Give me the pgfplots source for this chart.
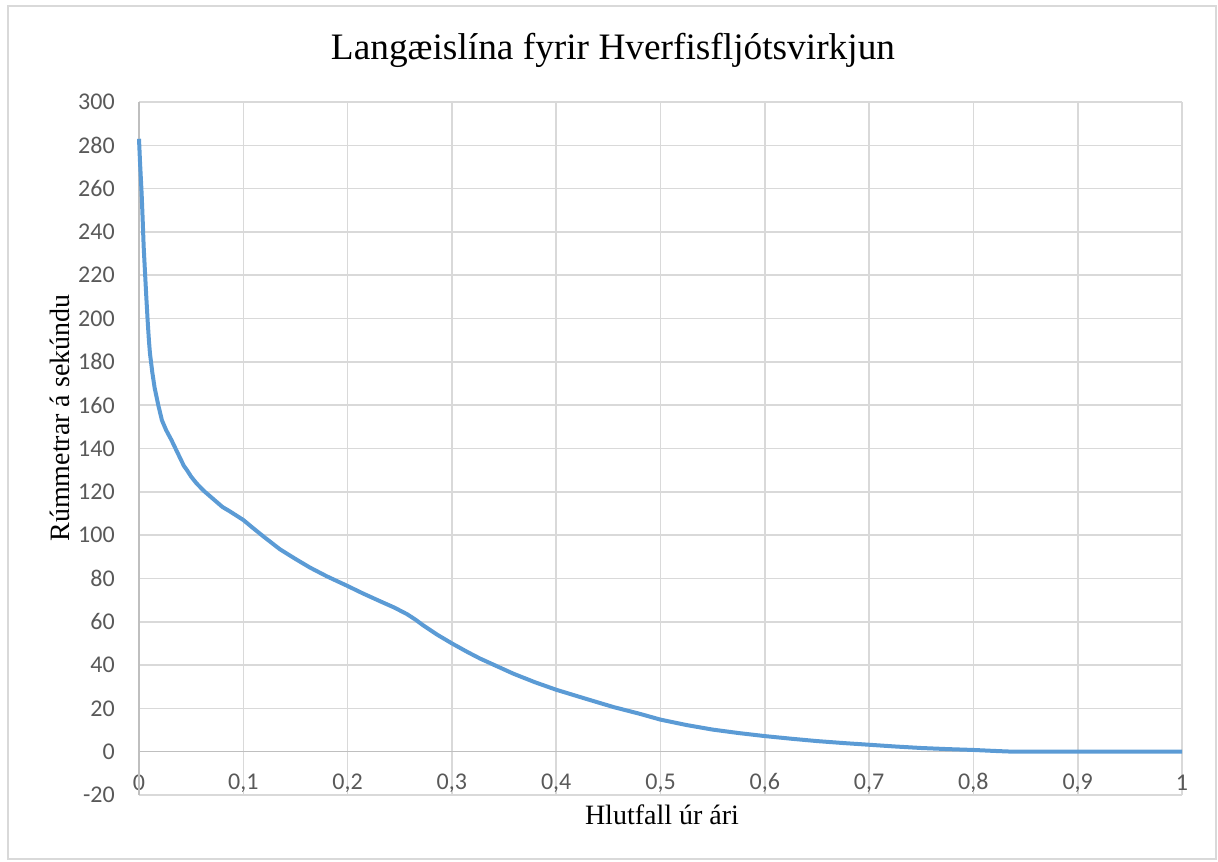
\documentclass[border=0pt]{standalone}
\usepackage{fontspec}
\setmainfont{Liberation Serif}
\newfontfamily\carlito{Carlito}
\usepackage{pgfplots}
\pgfplotsset{compat=1.18}

\definecolor{serie}{HTML}{5B9BD5}
\definecolor{grind}{HTML}{D9D9D9}
\definecolor{asi}{HTML}{BFBFBF}
\definecolor{tala}{HTML}{595959}

\begin{document}
\begin{tikzpicture}
  % 1 px of the reference = 0.75pt
  \path (0,0) rectangle (913.5pt,645.75pt);
  \draw[grind, line width=1.2pt] (6pt,1.5pt) rectangle (912pt,641.25pt);

  \begin{axis}[
    at={(104.25pt,49.5pt)}, anchor=south west,
    scale only axis, width=782.25pt, height=519.75pt,
    xmin=0, xmax=1, ymin=-20, ymax=300,
    xtick={0,0.1,0.2,0.3,0.4,0.5,0.6,0.7,0.8,0.9,1},
    ytick={-20,0,20,40,60,80,100,120,140,160,180,200,220,240,260,280,300},
    grid=major,
    major grid style={grind, line width=1.2pt},
    axis line style={draw=none},
    major tick length=0pt,
    tick label style={font=\carlito\fontsize{18}{20}\selectfont, text=tala},
    /pgf/number format/assume math mode=true,
    /pgf/number format/use comma,
    xticklabel style={anchor=center, yshift=9pt},
    yticklabel style={anchor=east, inner sep=0pt, xshift=-18pt},
    clip=false,
  ]
    \draw[asi, line width=1.2pt] (axis cs:0,-20) -- (axis cs:0,300);
    \draw[asi, line width=1.2pt] (axis cs:0,0) -- (axis cs:1,0);
    \addplot[serie, line width=3pt, no marks, line join=round] coordinates {
      (0,283) (0.001,272) (0.0025,258) (0.0035,246) (0.0045,233)
      (0.0058,221) (0.007,210) (0.0083,199) (0.0095,190) (0.0105,184)
      (0.0128,175) (0.015,168) (0.0185,160) (0.022,153) (0.026,148.5)
      (0.031,144) (0.035,140) (0.039,136) (0.043,132) (0.046,130)
      (0.05,127) (0.055,124) (0.062,120.5) (0.068,118) (0.074,115.5)
      (0.08,113) (0.087,111) (0.1,107) (0.11,103) (0.119,99.5)
      (0.135,93.5) (0.15,89) (0.164,85) (0.18,81) (0.2,76.5)
      (0.215,73) (0.231,69.5) (0.245,66.5) (0.257,63.5) (0.265,61)
      (0.272,58.5) (0.286,54) (0.3,50) (0.315,46) (0.327,43)
      (0.343,39.5) (0.359,36) (0.38,32) (0.4,28.6) (0.43,24.2)
      (0.455,20.6) (0.48,17.5) (0.5,14.8) (0.525,12.3) (0.55,10.2)
      (0.575,8.6) (0.6,7.2) (0.625,6.0) (0.65,4.9) (0.675,4.0)
      (0.7,3.2) (0.725,2.4) (0.75,1.7) (0.775,1.2) (0.8,0.8)
      (0.82,0.35) (0.838,0) (0.9,0) (1,0)
    };
  \end{axis}

  \node[font=\fontsize{28}{32}\selectfont] at (459.75pt,608.25pt) {Langæislína fyrir Hverfisfljótsvirkjun};
  \node[font=\fontsize{21}{24}\selectfont] at (496.5pt,34.5pt) {Hlutfall úr ári};
  \node[font=\fontsize{21}{24}\selectfont, rotate=90] at (45pt,332.25pt) {Rúmmetrar á sekúndu};
\end{tikzpicture}
\end{document}
